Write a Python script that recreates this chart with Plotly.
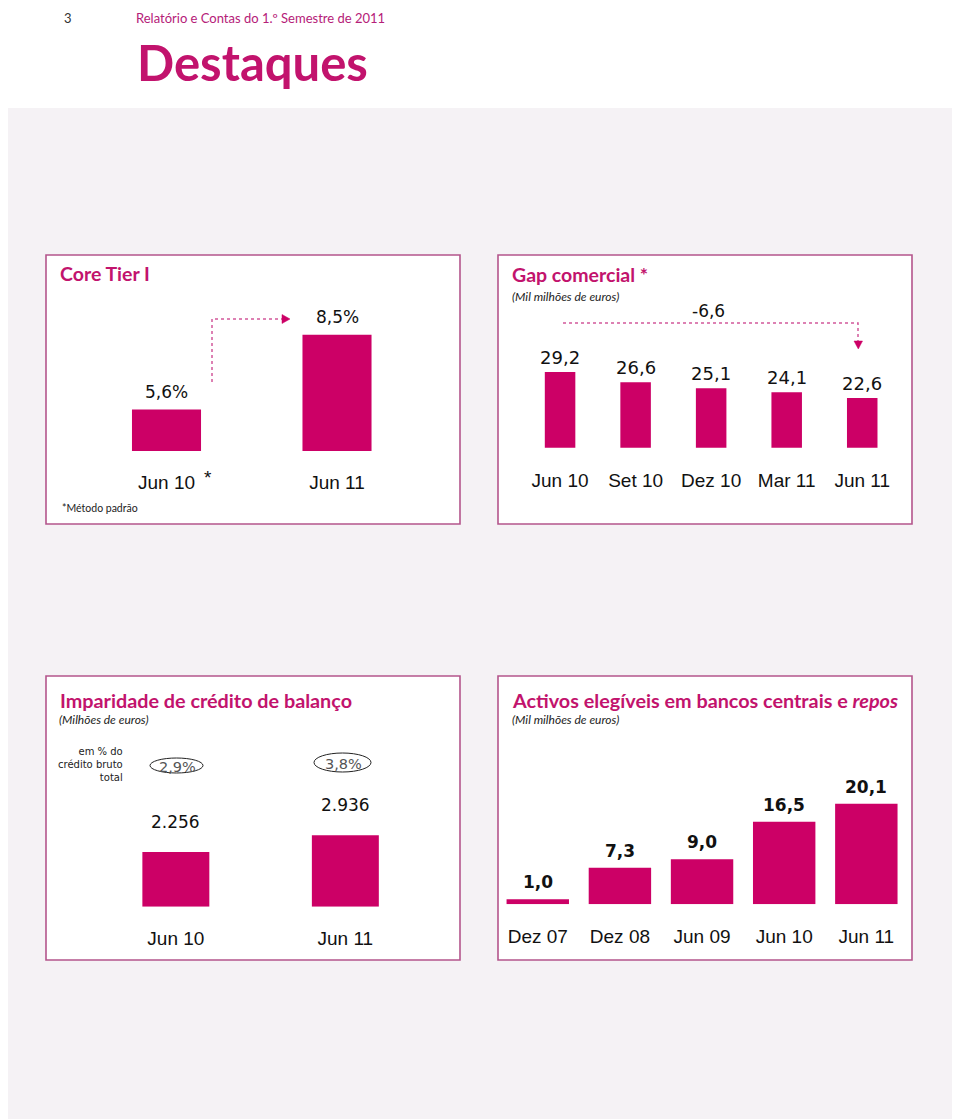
import plotly.graph_objects as go

# page is drawn with an 8px body margin, so the figure covers 8..960 x 8..1119
OFF = 8
W, H = 960 - OFF, 1119 - OFF

# ---------------- data ----------------
core_cats = ["Jun 10", "Jun 11"]
core_vals = [5.6, 8.5]

gap_cats = ["Jun 10", "Set 10", "Dez 10", "Mar 11", "Jun 11"]
gap_vals = [29.2, 26.6, 25.1, 24.1, 22.6]
gap_change = -6.6

imp_cats = ["Jun 10", "Jun 11"]
imp_vals = [2256, 2936]
imp_pct = ["2,9%", "3,8%"]

act_cats = ["Dez 07", "Dez 08", "Jun 09", "Jun 10", "Jun 11"]
act_vals = [1.0, 7.3, 9.0, 16.5, 20.1]

# ---------------- style ----------------
BAR = "#cc0066"
MAG = "#c2136d"
BORDER = "#b4558c"
ARROW = "#d2589a"
BG = "#f5f2f5"
TITLE_FONT = "Lato"
VAL_FONT = "DejaVu Sans"
CAT_FONT = "Liberation Sans"


def px(x):
    return (x - OFF) / W


def py(y):
    return 1 - (y - OFF) / H


def pt(v):
    return f"{v:.1f}".replace(".", ",")


fig = go.Figure()

panels = [
    dict(ax="", cats=core_cats, vals=core_vals, xd=(81.25, 422.25), yd=(300, 451),
         yr=(4, 4 + 151 / 25.86), width=0.405, std=18),
    dict(ax="2", cats=gap_cats, vals=gap_vals, xd=(522.3, 900.0), yd=(300, 447.7),
         yr=(10, 10 + 147.7 / 3.94), width=0.404, std=19),
    dict(ax="3", cats=imp_cats, vals=imp_vals, xd=(91.1, 430.1), yd=(740, 906.7),
         yr=(0, 166.7 / 0.0243), width=0.395, std=18),
    dict(ax="4", cats=act_cats, vals=act_vals, xd=(496.7, 907.4), yd=(770, 904.3),
         yr=(0, 134.3 / 5.0), width=0.76, std=19),
]

layout_axes = {}
for i, p in enumerate(panels):
    xa = "x" + p["ax"]
    ya = "y" + p["ax"]
    fig.add_trace(go.Bar(x=p["cats"], y=p["vals"], xaxis=xa, yaxis=ya,
                         marker=dict(color=BAR, line=dict(width=0)),
                         width=p["width"], showlegend=False, hoverinfo="skip"))
    xkey = "xaxis" + p["ax"]
    ykey = "yaxis" + p["ax"]
    layout_axes[xkey] = dict(domain=[px(p["xd"][0]), px(p["xd"][1])], anchor=ya,
                             type="category", range=[-0.5, len(p["cats"]) - 0.5],
                             showgrid=False, zeroline=False, showline=False, ticks="",
                             tickvals=p["cats"], ticktext=p["cats"],
                             ticklabelstandoff=p["std"],
                             tickfont=dict(family=CAT_FONT, size=19, color="#111111"),
                             fixedrange=True)
    layout_axes[ykey] = dict(domain=[py(p["yd"][1]), py(p["yd"][0])], anchor=xa,
                             range=list(p["yr"]), visible=False, fixedrange=True)

fig.update_layout(**layout_axes)

ann = []
for c, v in zip(core_cats, core_vals):
    ann.append(dict(x=c, y=v, xref="x", yref="y", text=pt(v) + "%", showarrow=False,
                    yanchor="middle", yshift=18,
                    font=dict(family=VAL_FONT, size=17, color="#111111")))
for c, v in zip(gap_cats, gap_vals):
    ann.append(dict(x=c, y=v, xref="x2", yref="y2", text=pt(v), showarrow=False,
                    yanchor="middle", yshift=15,
                    font=dict(family=VAL_FONT, size=18, color="#111111")))
for c, v in zip(imp_cats, imp_vals):
    ann.append(dict(x=c, y=v, xref="x3", yref="y3", text=f"{v:,}".replace(",", "."),
                    showarrow=False, yanchor="middle", yshift=30,
                    font=dict(family=VAL_FONT, size=17, color="#111111")))
for c, v in zip(act_cats, act_vals):
    ann.append(dict(x=c, y=v, xref="x4", yref="y4", text="<b>" + pt(v) + "</b>",
                    showarrow=False, yanchor="middle", yshift=17,
                    font=dict(family=VAL_FONT, size=17, color="#111111")))


def text(x, y, s, size, color="#111111", family=TITLE_FONT, xanchor="left", align="left",
         yanchor="middle"):
    ann.append(dict(x=px(x), y=py(y), xref="paper", yref="paper", text=s, showarrow=False,
                    xanchor=xanchor, yanchor=yanchor, align=align,
                    font=dict(family=family, size=size, color=color)))


# header (top clipped by the page margin, so anchored at the top edge)
text(62, 8.5, "3", 13, color="#333333", yanchor="top")
text(134, 8.5, "Relatório e Contas do 1.º Semestre de 2011", 13, color="#b52078",
     yanchor="top")
text(253, 62, "<b>Destaques</b>", 49, color=MAG, xanchor="center")

# panel titles
text(58, 273, "<b>Core Tier I</b>", 19.5, color=MAG)
text(510, 274, "<b>Gap comercial *</b>", 19.5, color=MAG)
text(510, 296, "<i>(Mil milhões de euros)</i>", 12, color="#222222")
text(58, 700, "<b>Imparidade de crédito de balanço</b>", 19.8, color=MAG)
text(57, 719, "<i>(Milhões de euros)</i>", 12, color="#222222")
text(510, 700, "<b>Activos elegíveis em bancos centrais e <i>repos</i></b>", 19.8, color=MAG)
text(510, 719, "<i>(Mil milhões de euros)</i>", 12, color="#222222")
text(60, 508, "*Método padrão", 10.5, color="#222222")
text(208, 478, "*", 19, color="#111111", family=CAT_FONT, xanchor="center")
text(708, 311, pt(gap_change), 17, color="#111111", family=VAL_FONT, xanchor="center")
text(125, 764, "em % do<br>crédito bruto<br>total", 10, color="#222222", family=VAL_FONT,
     xanchor="right", align="right")

ell = [(150, 203, 758, 773), (314, 371, 753, 772)]
for (x0, x1, y0, y1), s in zip(ell, imp_pct):
    text((x0 + x1) / 2 + 1, (y0 + y1) / 2 + 1, s, 14.5, color="#555555", family=VAL_FONT,
         xanchor="center")

shapes = []
shapes.append(dict(type="rect", xref="paper", yref="paper", x0=0, x1=1, y0=0, y1=py(108),
                   fillcolor=BG, line=dict(width=0), layer="below"))
for (x0, x1, y0, y1) in [(46, 460, 255, 524), (498, 912, 255, 524),
                         (46, 460, 676, 960), (498, 912, 676, 960)]:
    shapes.append(dict(type="rect", xref="paper", yref="paper", x0=px(x0), x1=px(x1),
                       y0=py(y1), y1=py(y0), fillcolor="white",
                       line=dict(color=BORDER, width=1.6), layer="below"))
for (x0, x1, y0, y1) in ell:
    shapes.append(dict(type="circle", xref="paper", yref="paper", x0=px(x0), x1=px(x1),
                       y0=py(y1), y1=py(y0), line=dict(color="#222222", width=1)))


def path(points, closed=False):
    s = "M " + " L ".join(f"{px(a)},{py(b)}" for a, b in points)
    return s + (" Z" if closed else "")


shapes.append(dict(type="path", xref="paper", yref="paper",
                   path=path([(212, 382), (212, 319), (283, 319)]),
                   line=dict(color=ARROW, width=1.5, dash="dot")))
shapes.append(dict(type="path", xref="paper", yref="paper",
                   path=path([(282, 314.5), (290, 319), (282, 323.5)], closed=True),
                   fillcolor=BAR, line=dict(color=BAR, width=0.5)))
shapes.append(dict(type="path", xref="paper", yref="paper",
                   path=path([(563, 323), (858, 323), (858, 341)]),
                   line=dict(color=ARROW, width=1.5, dash="dot")))
shapes.append(dict(type="path", xref="paper", yref="paper",
                   path=path([(854, 341), (858.3, 349), (862.5, 341)], closed=True),
                   fillcolor=BAR, line=dict(color=BAR, width=0.5)))

fig.update_layout(width=W, height=H, margin=dict(l=0, r=0, t=0, b=0),
                  paper_bgcolor="white", plot_bgcolor="rgba(0,0,0,0)",
                  annotations=ann, shapes=shapes, showlegend=False)

fig.write_html("out.html")
